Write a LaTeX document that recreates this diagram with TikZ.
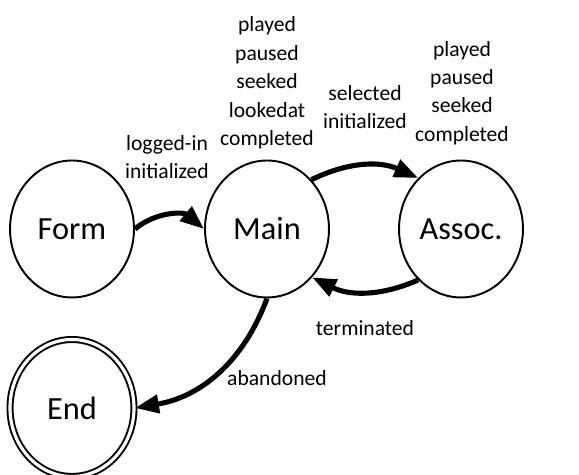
\documentclass[tikz,border=0pt]{standalone}
\usepackage{fontspec}
\setmainfont{Carlito}
\usetikzlibrary{arrows.meta,shapes.geometric}

\begin{document}
\begin{tikzpicture}[x=0.02cm,y=-0.02cm,
  state/.style={draw,ellipse,line width=1.1pt,minimum width=2.48cm,minimum height=2.74cm,inner sep=0pt,font=\fontsize{18.4}{20}\selectfont},
  final/.style={state,double,double distance=1.8pt},
  trans/.style={-{Triangle[length=0.48cm,width=0.36cm]},line width=2.9pt},
  lbl/.style={align=center,inner sep=0pt,font=\fontsize{12.3}{16.2}\selectfont}]
\useasboundingbox (0,0) rectangle (579,475);
\node[state] (form) at (72,229) {Form};
\node[state] (main) at (267,229) {Main};
\node[state] (assoc) at (461,229) {Assoc.};
\node[final] (end) at (72,408) {End};
\draw[trans] (form.east) to[bend left=40] (main.west);
\draw[trans] (main.48) to[bend left=25] (assoc.130);
\draw[trans] (assoc.230) to[bend left=25] (main.313);
\draw[trans] (main.south) to[bend left=30] (end.east);
\node[lbl] (l1) at (167,157) {logged-in\\initialized};
\node[lbl] (l2) at (267,83) {played\\paused\\seeked\\lookedat\\completed};
\node[lbl] (l3) at (365,107) {selected\\initialized};
\node[lbl] (l4) at (462,93) {played\\paused\\seeked\\completed};
\node[lbl] (l5) at (365,328) {terminated};
\node[lbl] (l6) at (277,378) {abandoned};
\end{tikzpicture}
\end{document}
